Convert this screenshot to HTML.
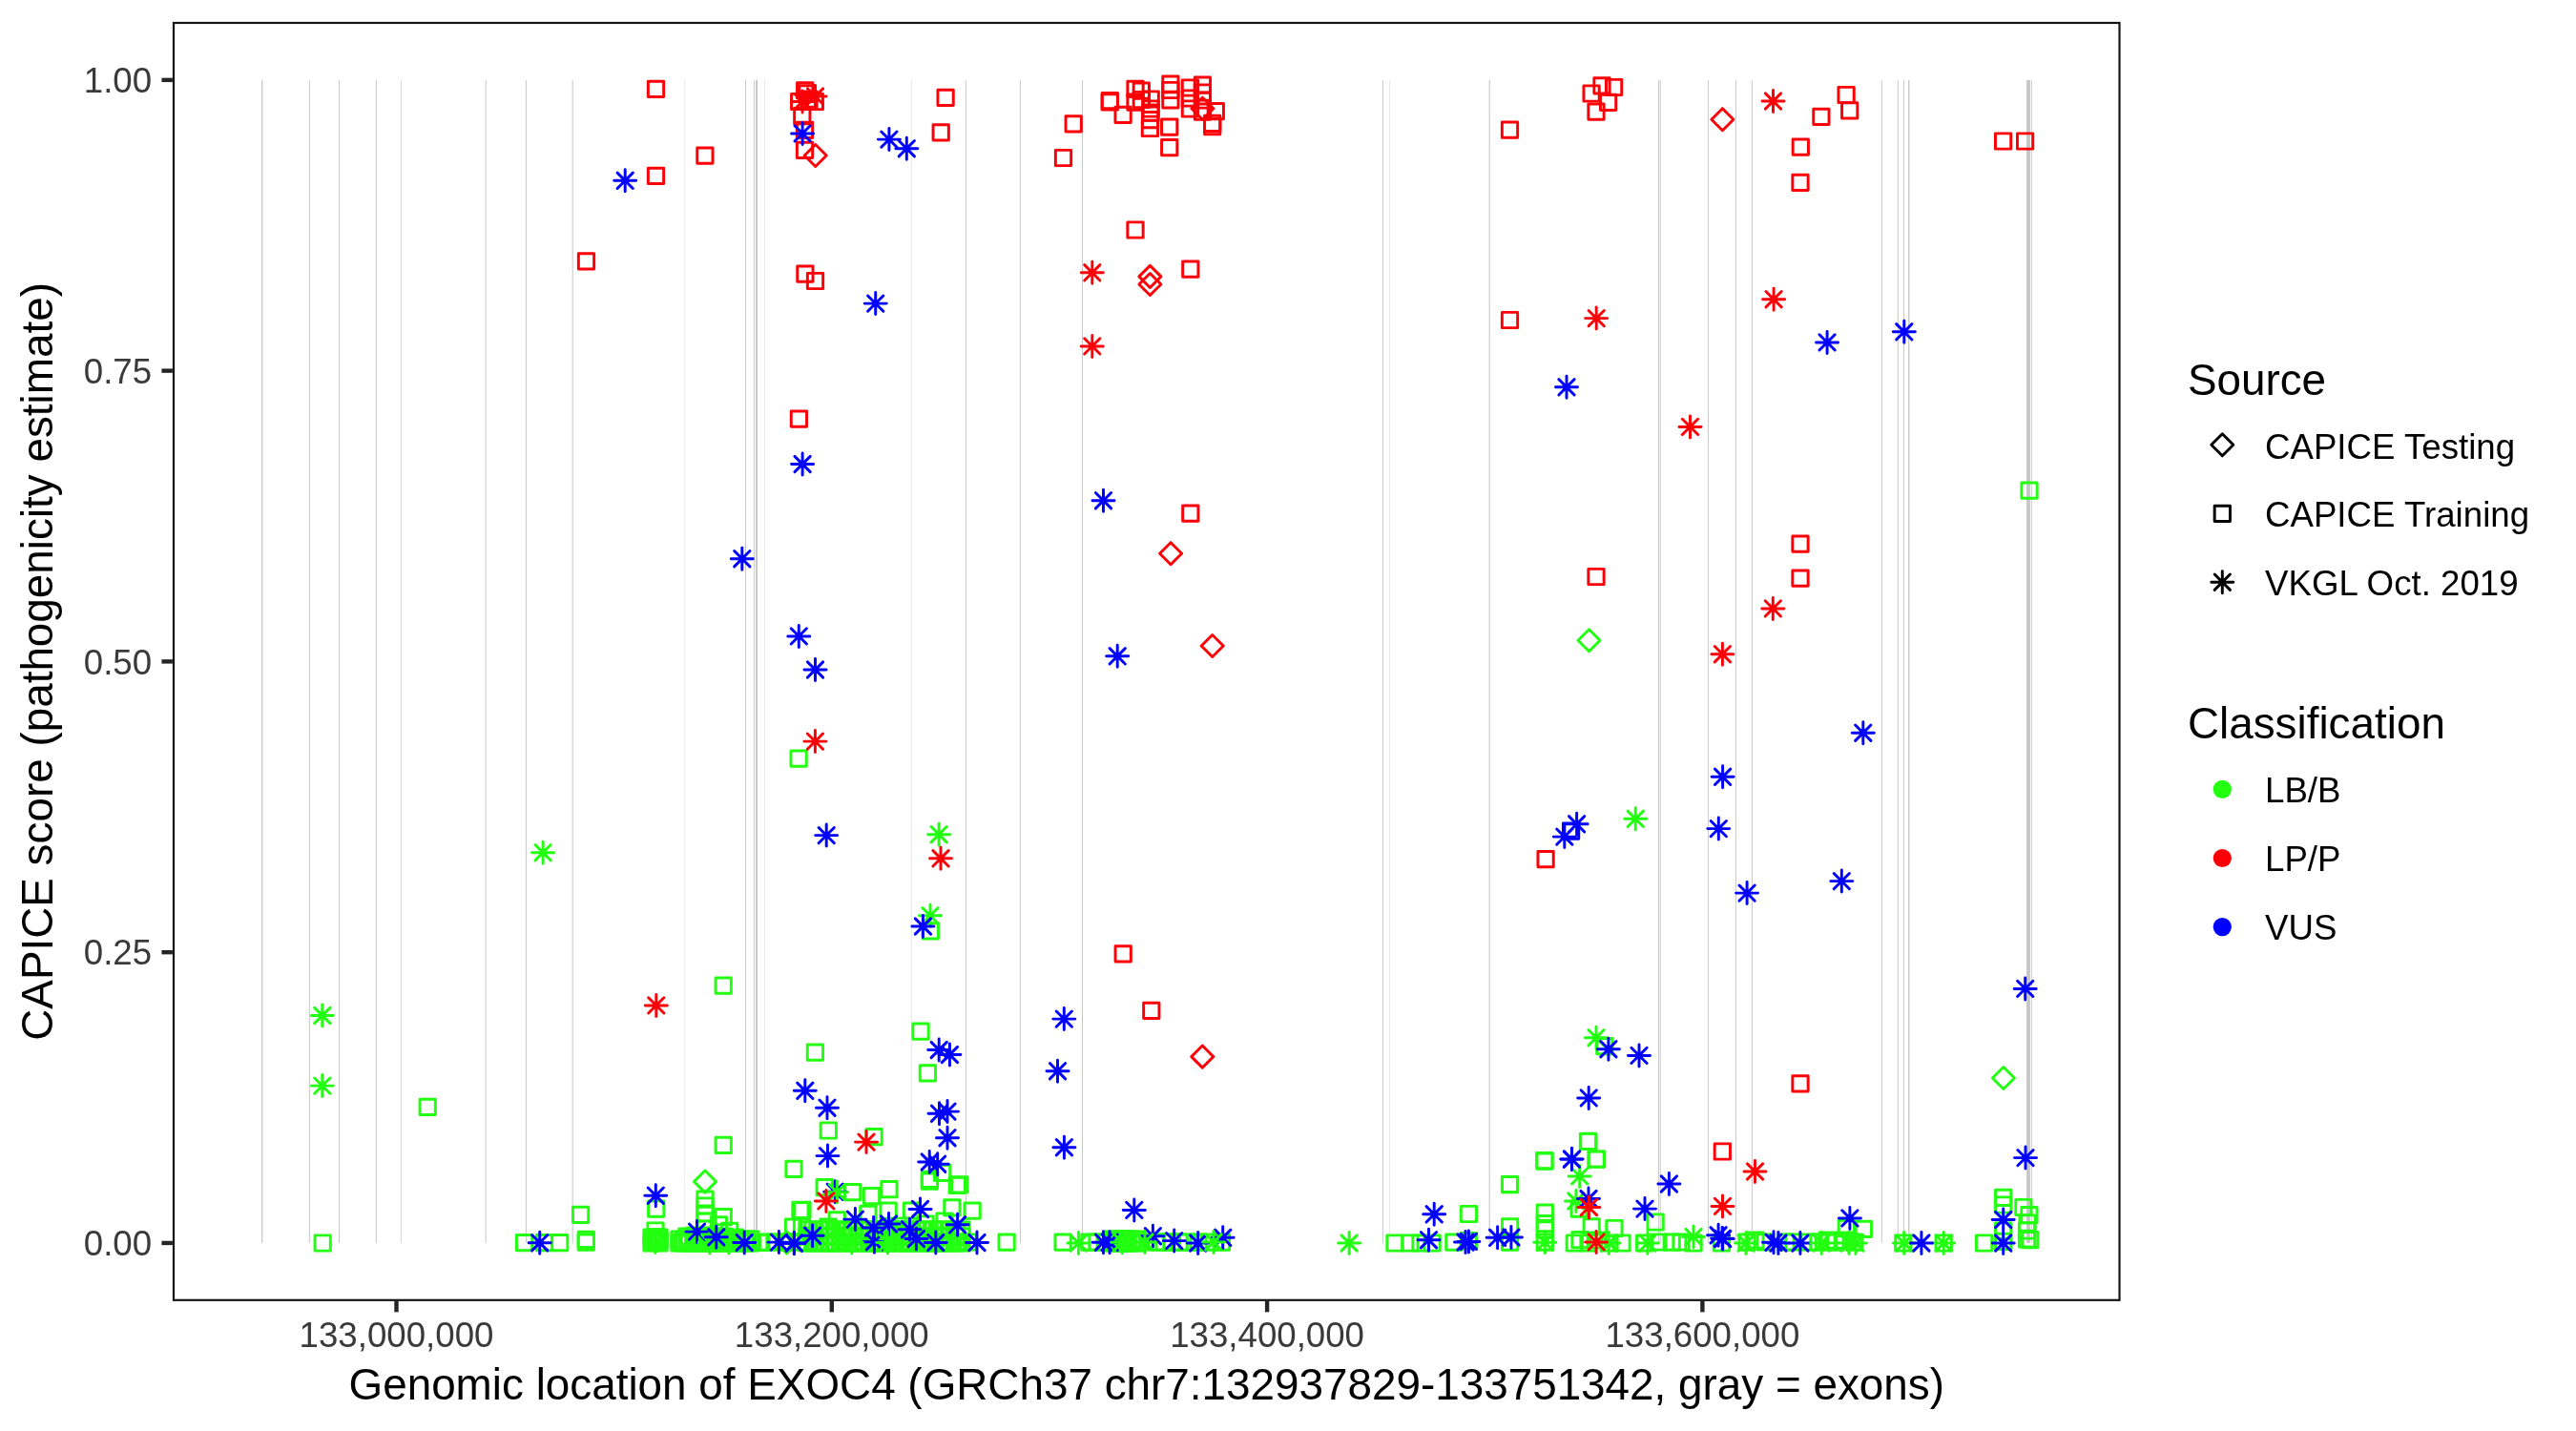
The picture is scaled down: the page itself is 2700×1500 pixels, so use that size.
<!DOCTYPE html>
<html><head><meta charset="utf-8"><title>CAPICE EXOC4</title>
<style>html,body{margin:0;padding:0;background:#fff;width:2700px;height:1500px;overflow:hidden}svg{display:block;will-change:transform;font-family:"Liberation Sans",sans-serif}</style>
</head><body><svg width="2700" height="1500" viewBox="0 0 2700 1500" font-family="Liberation Sans, sans-serif"><rect x="0" y="0" width="2700" height="1500" fill="#FFFFFF"/><g><rect x="274.10" y="83.85" width="1.20" height="1219.10" fill="#C4C4C4"/><rect x="323.90" y="83.85" width="1.00" height="1219.10" fill="#C8C8C8"/><rect x="355.00" y="83.85" width="1.00" height="1219.10" fill="#C8C8C8"/><rect x="393.90" y="83.85" width="1.00" height="1219.10" fill="#C8C8C8"/><rect x="419.90" y="83.85" width="1.00" height="1219.10" fill="#D4D4D4"/><rect x="508.70" y="83.85" width="1.00" height="1219.10" fill="#C8C8C8"/><rect x="550.90" y="83.85" width="1.00" height="1219.10" fill="#C8C8C8"/><rect x="599.70" y="83.85" width="1.00" height="1219.10" fill="#C8C8C8"/><rect x="717.00" y="83.85" width="1.00" height="1219.10" fill="#EDEDED"/><rect x="781.00" y="83.85" width="1.00" height="1219.10" fill="#C8C8C8"/><rect x="789.90" y="83.85" width="1.00" height="1219.10" fill="#CCCCCC"/><rect x="792.15" y="83.85" width="1.90" height="1219.10" fill="#C4C4C4"/><rect x="800.90" y="83.85" width="1.00" height="1219.10" fill="#E8E8E8"/><rect x="954.90" y="83.85" width="1.00" height="1219.10" fill="#E8E8E8"/><rect x="1011.90" y="83.85" width="1.00" height="1219.10" fill="#C8C8C8"/><rect x="1068.90" y="83.85" width="1.00" height="1219.10" fill="#C8C8C8"/><rect x="1134.00" y="83.85" width="1.00" height="1219.10" fill="#C8C8C8"/><rect x="1448.90" y="83.85" width="1.00" height="1219.10" fill="#C8C8C8"/><rect x="1455.90" y="83.85" width="1.00" height="1219.10" fill="#E6E6E6"/><rect x="1560.65" y="83.85" width="1.10" height="1219.10" fill="#C6C6C6"/><rect x="1737.90" y="83.85" width="1.00" height="1219.10" fill="#C8C8C8"/><rect x="1739.70" y="83.85" width="1.00" height="1219.10" fill="#C8C8C8"/><rect x="1789.90" y="83.85" width="1.00" height="1219.10" fill="#C8C8C8"/><rect x="1818.90" y="83.85" width="1.00" height="1219.10" fill="#C8C8C8"/><rect x="1835.90" y="83.85" width="1.00" height="1219.10" fill="#C8C8C8"/><rect x="1971.90" y="83.85" width="1.00" height="1219.10" fill="#C8C8C8"/><rect x="1988.80" y="83.85" width="1.00" height="1219.10" fill="#C8C8C8"/><rect x="1994.90" y="83.85" width="1.00" height="1219.10" fill="#C8C8C8"/><rect x="2000.15" y="83.85" width="1.30" height="1219.10" fill="#C4C4C4"/><rect x="2124.10" y="83.85" width="3.80" height="1219.10" fill="#C6C6C6"/><rect x="2128.90" y="83.85" width="1.00" height="1219.10" fill="#CFCFCF"/></g><g fill="none" stroke-width="2.95" stroke-linejoin="round" stroke-linecap="round"><path d="M1665.50 659.78L1677.02 671.30L1665.50 682.82L1653.98 671.30Z" stroke="#22FF10"/><rect x="2118.86" y="505.96" width="16.28" height="16.28" stroke="#22FF10"/><rect x="828.96" y="786.96" width="16.28" height="16.28" stroke="#22FF10"/><rect x="440.06" y="1152.26" width="16.28" height="16.28" stroke="#22FF10"/><rect x="750.06" y="1024.96" width="16.28" height="16.28" stroke="#22FF10"/><rect x="846.26" y="1094.96" width="16.28" height="16.28" stroke="#22FF10"/><rect x="967.16" y="967.76" width="16.28" height="16.28" stroke="#22FF10"/><rect x="956.86" y="1072.96" width="16.28" height="16.28" stroke="#22FF10"/><rect x="964.26" y="1116.76" width="16.28" height="16.28" stroke="#22FF10"/><rect x="1673.66" y="1088.46" width="16.28" height="16.28" stroke="#22FF10"/><path d="M2099.90 1118.48L2111.42 1130.00L2099.90 1141.52L2088.38 1130.00Z" stroke="#22FF10"/><rect x="860.16" y="1176.86" width="16.28" height="16.28" stroke="#22FF10"/><rect x="907.96" y="1183.46" width="16.28" height="16.28" stroke="#22FF10"/><rect x="823.86" y="1217.16" width="16.28" height="16.28" stroke="#22FF10"/><rect x="979.46" y="1221.16" width="16.28" height="16.28" stroke="#22FF10"/><rect x="966.36" y="1228.26" width="16.28" height="16.28" stroke="#22FF10"/><rect x="995.16" y="1234.26" width="16.28" height="16.28" stroke="#22FF10"/><rect x="541.46" y="1294.56" width="16.28" height="16.28" stroke="#22FF10"/><rect x="562.36" y="1294.56" width="16.28" height="16.28" stroke="#22FF10"/><rect x="578.56" y="1294.56" width="16.28" height="16.28" stroke="#22FF10"/><rect x="600.46" y="1265.16" width="16.28" height="16.28" stroke="#22FF10"/><rect x="606.16" y="1291.16" width="16.28" height="16.28" stroke="#22FF10"/><rect x="606.16" y="1293.96" width="16.28" height="16.28" stroke="#22FF10"/><rect x="679.56" y="1258.96" width="16.28" height="16.28" stroke="#22FF10"/><rect x="679.56" y="1288.66" width="16.28" height="16.28" stroke="#22FF10"/><rect x="679.56" y="1294.36" width="16.28" height="16.28" stroke="#22FF10"/><rect x="675.86" y="1291.86" width="16.28" height="16.28" stroke="#22FF10"/><rect x="682.86" y="1291.86" width="16.28" height="16.28" stroke="#22FF10"/><rect x="750.06" y="1192.16" width="16.28" height="16.28" stroke="#22FF10"/><path d="M739.00 1227.08L750.52 1238.60L739.00 1250.12L727.48 1238.60Z" stroke="#22FF10"/><rect x="730.86" y="1248.96" width="16.28" height="16.28" stroke="#22FF10"/><rect x="730.86" y="1255.86" width="16.28" height="16.28" stroke="#22FF10"/><rect x="730.86" y="1263.86" width="16.28" height="16.28" stroke="#22FF10"/><rect x="730.86" y="1271.86" width="16.28" height="16.28" stroke="#22FF10"/><rect x="730.86" y="1279.86" width="16.28" height="16.28" stroke="#22FF10"/><rect x="730.86" y="1286.86" width="16.28" height="16.28" stroke="#22FF10"/><rect x="730.86" y="1293.86" width="16.28" height="16.28" stroke="#22FF10"/><rect x="750.06" y="1267.46" width="16.28" height="16.28" stroke="#22FF10"/><rect x="745.16" y="1275.66" width="16.28" height="16.28" stroke="#22FF10"/><rect x="756.56" y="1282.16" width="16.28" height="16.28" stroke="#22FF10"/><rect x="706.86" y="1293.86" width="16.28" height="16.28" stroke="#22FF10"/><rect x="713.86" y="1293.86" width="16.28" height="16.28" stroke="#22FF10"/><rect x="720.86" y="1293.86" width="16.28" height="16.28" stroke="#22FF10"/><rect x="727.86" y="1293.86" width="16.28" height="16.28" stroke="#22FF10"/><rect x="736.86" y="1293.86" width="16.28" height="16.28" stroke="#22FF10"/><rect x="743.86" y="1293.86" width="16.28" height="16.28" stroke="#22FF10"/><rect x="751.86" y="1293.86" width="16.28" height="16.28" stroke="#22FF10"/><rect x="759.86" y="1293.86" width="16.28" height="16.28" stroke="#22FF10"/><rect x="767.86" y="1293.86" width="16.28" height="16.28" stroke="#22FF10"/><rect x="775.86" y="1293.86" width="16.28" height="16.28" stroke="#22FF10"/><rect x="711.86" y="1287.86" width="16.28" height="16.28" stroke="#22FF10"/><rect x="719.86" y="1286.86" width="16.28" height="16.28" stroke="#22FF10"/><rect x="739.86" y="1287.86" width="16.28" height="16.28" stroke="#22FF10"/><rect x="749.86" y="1287.86" width="16.28" height="16.28" stroke="#22FF10"/><rect x="761.86" y="1288.86" width="16.28" height="16.28" stroke="#22FF10"/><rect x="789.56" y="1294.36" width="16.28" height="16.28" stroke="#22FF10"/><path d="M824.60 1290.98L836.12 1302.50L824.60 1314.02L813.08 1302.50Z" stroke="#22FF10"/><rect x="796.86" y="1293.86" width="16.28" height="16.28" stroke="#22FF10"/><rect x="803.86" y="1293.86" width="16.28" height="16.28" stroke="#22FF10"/><rect x="815.86" y="1293.86" width="16.28" height="16.28" stroke="#22FF10"/><rect x="827.86" y="1293.86" width="16.28" height="16.28" stroke="#22FF10"/><rect x="830.76" y="1260.56" width="16.28" height="16.28" stroke="#22FF10"/><rect x="823.36" y="1278.06" width="16.28" height="16.28" stroke="#22FF10"/><rect x="832.36" y="1278.06" width="16.28" height="16.28" stroke="#22FF10"/><rect x="832.86" y="1260.16" width="16.28" height="16.28" stroke="#22FF10"/><rect x="856.06" y="1236.56" width="16.28" height="16.28" stroke="#22FF10"/><rect x="885.46" y="1241.46" width="16.28" height="16.28" stroke="#22FF10"/><rect x="905.36" y="1245.46" width="16.28" height="16.28" stroke="#22FF10"/><rect x="923.76" y="1238.56" width="16.28" height="16.28" stroke="#22FF10"/><rect x="922.96" y="1260.96" width="16.28" height="16.28" stroke="#22FF10"/><rect x="947.36" y="1260.96" width="16.28" height="16.28" stroke="#22FF10"/><rect x="966.16" y="1229.96" width="16.28" height="16.28" stroke="#22FF10"/><rect x="989.76" y="1257.76" width="16.28" height="16.28" stroke="#22FF10"/><rect x="1010.96" y="1260.96" width="16.28" height="16.28" stroke="#22FF10"/><rect x="869.16" y="1270.76" width="16.28" height="16.28" stroke="#22FF10"/><rect x="901.76" y="1264.26" width="16.28" height="16.28" stroke="#22FF10"/><rect x="859.86" y="1277.86" width="16.28" height="16.28" stroke="#22FF10"/><rect x="879.86" y="1281.86" width="16.28" height="16.28" stroke="#22FF10"/><rect x="936.86" y="1276.86" width="16.28" height="16.28" stroke="#22FF10"/><rect x="961.86" y="1274.86" width="16.28" height="16.28" stroke="#22FF10"/><rect x="981.86" y="1271.86" width="16.28" height="16.28" stroke="#22FF10"/><rect x="836.86" y="1293.86" width="16.28" height="16.28" stroke="#22FF10"/><rect x="846.86" y="1293.86" width="16.28" height="16.28" stroke="#22FF10"/><rect x="856.86" y="1293.86" width="16.28" height="16.28" stroke="#22FF10"/><rect x="866.86" y="1293.86" width="16.28" height="16.28" stroke="#22FF10"/><rect x="876.86" y="1293.86" width="16.28" height="16.28" stroke="#22FF10"/><rect x="886.86" y="1293.86" width="16.28" height="16.28" stroke="#22FF10"/><rect x="896.86" y="1293.86" width="16.28" height="16.28" stroke="#22FF10"/><rect x="906.86" y="1293.86" width="16.28" height="16.28" stroke="#22FF10"/><rect x="916.86" y="1293.86" width="16.28" height="16.28" stroke="#22FF10"/><rect x="926.86" y="1293.86" width="16.28" height="16.28" stroke="#22FF10"/><rect x="936.86" y="1293.86" width="16.28" height="16.28" stroke="#22FF10"/><rect x="946.86" y="1293.86" width="16.28" height="16.28" stroke="#22FF10"/><rect x="956.86" y="1293.86" width="16.28" height="16.28" stroke="#22FF10"/><rect x="966.86" y="1293.86" width="16.28" height="16.28" stroke="#22FF10"/><rect x="976.86" y="1293.86" width="16.28" height="16.28" stroke="#22FF10"/><rect x="986.86" y="1293.86" width="16.28" height="16.28" stroke="#22FF10"/><rect x="996.86" y="1293.86" width="16.28" height="16.28" stroke="#22FF10"/><rect x="1006.86" y="1293.86" width="16.28" height="16.28" stroke="#22FF10"/><rect x="841.86" y="1286.86" width="16.28" height="16.28" stroke="#22FF10"/><rect x="861.86" y="1286.86" width="16.28" height="16.28" stroke="#22FF10"/><rect x="881.86" y="1287.86" width="16.28" height="16.28" stroke="#22FF10"/><rect x="901.86" y="1286.86" width="16.28" height="16.28" stroke="#22FF10"/><rect x="921.86" y="1287.86" width="16.28" height="16.28" stroke="#22FF10"/><rect x="941.86" y="1286.86" width="16.28" height="16.28" stroke="#22FF10"/><rect x="961.86" y="1287.86" width="16.28" height="16.28" stroke="#22FF10"/><rect x="981.86" y="1286.86" width="16.28" height="16.28" stroke="#22FF10"/><rect x="997.56" y="1233.76" width="16.28" height="16.28" stroke="#22FF10"/><rect x="1046.96" y="1294.06" width="16.28" height="16.28" stroke="#22FF10"/><rect x="1105.96" y="1294.06" width="16.28" height="16.28" stroke="#22FF10"/><rect x="1133.76" y="1294.06" width="16.28" height="16.28" stroke="#22FF10"/><rect x="1141.86" y="1293.86" width="16.28" height="16.28" stroke="#22FF10"/><rect x="1151.86" y="1293.86" width="16.28" height="16.28" stroke="#22FF10"/><rect x="1161.86" y="1293.86" width="16.28" height="16.28" stroke="#22FF10"/><rect x="1171.86" y="1293.86" width="16.28" height="16.28" stroke="#22FF10"/><rect x="1185.36" y="1294.06" width="16.28" height="16.28" stroke="#22FF10"/><rect x="1203.86" y="1294.06" width="16.28" height="16.28" stroke="#22FF10"/><rect x="1219.86" y="1294.06" width="16.28" height="16.28" stroke="#22FF10"/><rect x="1236.46" y="1294.06" width="16.28" height="16.28" stroke="#22FF10"/><rect x="1247.86" y="1294.06" width="16.28" height="16.28" stroke="#22FF10"/><rect x="1259.26" y="1294.06" width="16.28" height="16.28" stroke="#22FF10"/><rect x="1272.26" y="1294.06" width="16.28" height="16.28" stroke="#22FF10"/><rect x="1211.86" y="1293.86" width="16.28" height="16.28" stroke="#22FF10"/><rect x="1227.86" y="1293.86" width="16.28" height="16.28" stroke="#22FF10"/><rect x="1453.86" y="1294.86" width="16.28" height="16.28" stroke="#22FF10"/><rect x="1469.76" y="1294.86" width="16.28" height="16.28" stroke="#22FF10"/><rect x="1492.96" y="1294.86" width="16.28" height="16.28" stroke="#22FF10"/><rect x="1480.86" y="1294.86" width="16.28" height="16.28" stroke="#22FF10"/><rect x="1515.76" y="1294.06" width="16.28" height="16.28" stroke="#22FF10"/><rect x="1531.26" y="1264.36" width="16.28" height="16.28" stroke="#22FF10"/><rect x="1531.26" y="1292.46" width="16.28" height="16.28" stroke="#22FF10"/><rect x="1574.46" y="1294.06" width="16.28" height="16.28" stroke="#22FF10"/><rect x="1574.46" y="1233.36" width="16.28" height="16.28" stroke="#22FF10"/><rect x="1574.46" y="1277.76" width="16.28" height="16.28" stroke="#22FF10"/><rect x="1574.36" y="1233.46" width="16.28" height="16.28" stroke="#22FF10"/><rect x="1610.86" y="1208.96" width="16.28" height="16.28" stroke="#22FF10"/><rect x="1611.16" y="1263.06" width="16.28" height="16.28" stroke="#22FF10"/><rect x="1611.16" y="1274.46" width="16.28" height="16.28" stroke="#22FF10"/><rect x="1611.16" y="1294.06" width="16.28" height="16.28" stroke="#22FF10"/><rect x="1611.16" y="1280.86" width="16.28" height="16.28" stroke="#22FF10"/><rect x="1656.36" y="1188.36" width="16.28" height="16.28" stroke="#22FF10"/><rect x="1664.96" y="1206.86" width="16.28" height="16.28" stroke="#22FF10"/><rect x="1647.06" y="1258.96" width="16.28" height="16.28" stroke="#22FF10"/><rect x="1660.06" y="1277.76" width="16.28" height="16.28" stroke="#22FF10"/><rect x="1683.76" y="1279.36" width="16.28" height="16.28" stroke="#22FF10"/><rect x="1642.16" y="1294.86" width="16.28" height="16.28" stroke="#22FF10"/><rect x="1647.86" y="1291.56" width="16.28" height="16.28" stroke="#22FF10"/><rect x="1678.86" y="1294.86" width="16.28" height="16.28" stroke="#22FF10"/><rect x="1691.86" y="1294.86" width="16.28" height="16.28" stroke="#22FF10"/><rect x="1656.86" y="1294.86" width="16.28" height="16.28" stroke="#22FF10"/><rect x="1666.86" y="1291.86" width="16.28" height="16.28" stroke="#22FF10"/><rect x="1726.96" y="1272.86" width="16.28" height="16.28" stroke="#22FF10"/><rect x="1715.56" y="1294.86" width="16.28" height="16.28" stroke="#22FF10"/><rect x="1744.06" y="1294.06" width="16.28" height="16.28" stroke="#22FF10"/><rect x="1766.86" y="1294.86" width="16.28" height="16.28" stroke="#22FF10"/><rect x="1729.86" y="1293.86" width="16.28" height="16.28" stroke="#22FF10"/><rect x="1753.86" y="1293.86" width="16.28" height="16.28" stroke="#22FF10"/><rect x="1796.26" y="1294.86" width="16.28" height="16.28" stroke="#22FF10"/><rect x="1610.76" y="1208.46" width="16.28" height="16.28" stroke="#22FF10"/><rect x="1656.76" y="1188.26" width="16.28" height="16.28" stroke="#22FF10"/><rect x="1665.16" y="1206.96" width="16.28" height="16.28" stroke="#22FF10"/><rect x="1822.86" y="1294.06" width="16.28" height="16.28" stroke="#22FF10"/><rect x="1831.86" y="1291.86" width="16.28" height="16.28" stroke="#22FF10"/><rect x="1841.86" y="1293.86" width="16.28" height="16.28" stroke="#22FF10"/><rect x="1863.86" y="1293.86" width="16.28" height="16.28" stroke="#22FF10"/><rect x="1871.86" y="1293.86" width="16.28" height="16.28" stroke="#22FF10"/><rect x="1886.86" y="1293.86" width="16.28" height="16.28" stroke="#22FF10"/><rect x="1945.16" y="1280.16" width="16.28" height="16.28" stroke="#22FF10"/><rect x="1927.16" y="1279.36" width="16.28" height="16.28" stroke="#22FF10"/><rect x="1897.86" y="1294.06" width="16.28" height="16.28" stroke="#22FF10"/><rect x="1906.86" y="1291.86" width="16.28" height="16.28" stroke="#22FF10"/><rect x="1915.86" y="1294.06" width="16.28" height="16.28" stroke="#22FF10"/><rect x="1924.86" y="1291.86" width="16.28" height="16.28" stroke="#22FF10"/><rect x="1935.36" y="1294.06" width="16.28" height="16.28" stroke="#22FF10"/><rect x="1986.66" y="1294.86" width="16.28" height="16.28" stroke="#22FF10"/><rect x="2029.06" y="1294.86" width="16.28" height="16.28" stroke="#22FF10"/><rect x="2071.46" y="1294.86" width="16.28" height="16.28" stroke="#22FF10"/><rect x="2091.56" y="1247.26" width="16.28" height="16.28" stroke="#22FF10"/><rect x="2091.56" y="1254.86" width="16.28" height="16.28" stroke="#22FF10"/><rect x="2091.56" y="1293.26" width="16.28" height="16.28" stroke="#22FF10"/><rect x="2091.56" y="1281.86" width="16.28" height="16.28" stroke="#22FF10"/><rect x="2112.76" y="1257.36" width="16.28" height="16.28" stroke="#22FF10"/><rect x="2118.76" y="1265.56" width="16.28" height="16.28" stroke="#22FF10"/><rect x="2116.36" y="1281.86" width="16.28" height="16.28" stroke="#22FF10"/><rect x="2116.36" y="1290.76" width="16.28" height="16.28" stroke="#22FF10"/><rect x="2119.56" y="1291.56" width="16.28" height="16.28" stroke="#22FF10"/><rect x="2116.86" y="1273.86" width="16.28" height="16.28" stroke="#22FF10"/><rect x="674.86" y="1288.86" width="16.28" height="16.28" stroke="#22FF10"/><rect x="682.86" y="1288.86" width="16.28" height="16.28" stroke="#22FF10"/><rect x="678.86" y="1290.86" width="16.28" height="16.28" stroke="#22FF10"/><rect x="674.86" y="1294.86" width="16.28" height="16.28" stroke="#22FF10"/><rect x="682.86" y="1294.86" width="16.28" height="16.28" stroke="#22FF10"/><rect x="678.86" y="1281.86" width="16.28" height="16.28" stroke="#22FF10"/><rect x="703.86" y="1290.86" width="16.28" height="16.28" stroke="#22FF10"/><rect x="703.86" y="1294.86" width="16.28" height="16.28" stroke="#22FF10"/><rect x="708.86" y="1290.86" width="16.28" height="16.28" stroke="#22FF10"/><rect x="708.86" y="1294.86" width="16.28" height="16.28" stroke="#22FF10"/><rect x="713.86" y="1290.86" width="16.28" height="16.28" stroke="#22FF10"/><rect x="713.86" y="1294.86" width="16.28" height="16.28" stroke="#22FF10"/><rect x="718.86" y="1290.86" width="16.28" height="16.28" stroke="#22FF10"/><rect x="718.86" y="1294.86" width="16.28" height="16.28" stroke="#22FF10"/><rect x="723.86" y="1290.86" width="16.28" height="16.28" stroke="#22FF10"/><rect x="723.86" y="1294.86" width="16.28" height="16.28" stroke="#22FF10"/><rect x="728.86" y="1290.86" width="16.28" height="16.28" stroke="#22FF10"/><rect x="728.86" y="1294.86" width="16.28" height="16.28" stroke="#22FF10"/><rect x="733.86" y="1290.86" width="16.28" height="16.28" stroke="#22FF10"/><rect x="733.86" y="1294.86" width="16.28" height="16.28" stroke="#22FF10"/><rect x="738.86" y="1290.86" width="16.28" height="16.28" stroke="#22FF10"/><rect x="738.86" y="1294.86" width="16.28" height="16.28" stroke="#22FF10"/><rect x="743.86" y="1290.86" width="16.28" height="16.28" stroke="#22FF10"/><rect x="743.86" y="1294.86" width="16.28" height="16.28" stroke="#22FF10"/><rect x="748.86" y="1290.86" width="16.28" height="16.28" stroke="#22FF10"/><rect x="748.86" y="1294.86" width="16.28" height="16.28" stroke="#22FF10"/><rect x="753.86" y="1290.86" width="16.28" height="16.28" stroke="#22FF10"/><rect x="753.86" y="1294.86" width="16.28" height="16.28" stroke="#22FF10"/><rect x="758.86" y="1290.86" width="16.28" height="16.28" stroke="#22FF10"/><rect x="758.86" y="1294.86" width="16.28" height="16.28" stroke="#22FF10"/><rect x="763.86" y="1290.86" width="16.28" height="16.28" stroke="#22FF10"/><rect x="763.86" y="1294.86" width="16.28" height="16.28" stroke="#22FF10"/><rect x="768.86" y="1290.86" width="16.28" height="16.28" stroke="#22FF10"/><rect x="768.86" y="1294.86" width="16.28" height="16.28" stroke="#22FF10"/><rect x="773.86" y="1290.86" width="16.28" height="16.28" stroke="#22FF10"/><rect x="773.86" y="1294.86" width="16.28" height="16.28" stroke="#22FF10"/><rect x="778.86" y="1290.86" width="16.28" height="16.28" stroke="#22FF10"/><rect x="778.86" y="1294.86" width="16.28" height="16.28" stroke="#22FF10"/><rect x="837.86" y="1280.86" width="16.28" height="16.28" stroke="#22FF10"/><rect x="837.86" y="1287.86" width="16.28" height="16.28" stroke="#22FF10"/><rect x="837.86" y="1294.86" width="16.28" height="16.28" stroke="#22FF10"/><rect x="843.86" y="1280.86" width="16.28" height="16.28" stroke="#22FF10"/><rect x="843.86" y="1287.86" width="16.28" height="16.28" stroke="#22FF10"/><rect x="843.86" y="1294.86" width="16.28" height="16.28" stroke="#22FF10"/><rect x="849.86" y="1280.86" width="16.28" height="16.28" stroke="#22FF10"/><rect x="849.86" y="1287.86" width="16.28" height="16.28" stroke="#22FF10"/><rect x="849.86" y="1294.86" width="16.28" height="16.28" stroke="#22FF10"/><rect x="855.86" y="1280.86" width="16.28" height="16.28" stroke="#22FF10"/><rect x="855.86" y="1287.86" width="16.28" height="16.28" stroke="#22FF10"/><rect x="855.86" y="1294.86" width="16.28" height="16.28" stroke="#22FF10"/><rect x="861.86" y="1280.86" width="16.28" height="16.28" stroke="#22FF10"/><rect x="861.86" y="1287.86" width="16.28" height="16.28" stroke="#22FF10"/><rect x="861.86" y="1294.86" width="16.28" height="16.28" stroke="#22FF10"/><rect x="867.86" y="1280.86" width="16.28" height="16.28" stroke="#22FF10"/><rect x="867.86" y="1287.86" width="16.28" height="16.28" stroke="#22FF10"/><rect x="867.86" y="1294.86" width="16.28" height="16.28" stroke="#22FF10"/><rect x="873.86" y="1280.86" width="16.28" height="16.28" stroke="#22FF10"/><rect x="873.86" y="1287.86" width="16.28" height="16.28" stroke="#22FF10"/><rect x="873.86" y="1294.86" width="16.28" height="16.28" stroke="#22FF10"/><rect x="879.86" y="1280.86" width="16.28" height="16.28" stroke="#22FF10"/><rect x="879.86" y="1287.86" width="16.28" height="16.28" stroke="#22FF10"/><rect x="879.86" y="1294.86" width="16.28" height="16.28" stroke="#22FF10"/><rect x="885.86" y="1280.86" width="16.28" height="16.28" stroke="#22FF10"/><rect x="885.86" y="1287.86" width="16.28" height="16.28" stroke="#22FF10"/><rect x="885.86" y="1294.86" width="16.28" height="16.28" stroke="#22FF10"/><rect x="891.86" y="1280.86" width="16.28" height="16.28" stroke="#22FF10"/><rect x="891.86" y="1287.86" width="16.28" height="16.28" stroke="#22FF10"/><rect x="891.86" y="1294.86" width="16.28" height="16.28" stroke="#22FF10"/><rect x="897.86" y="1280.86" width="16.28" height="16.28" stroke="#22FF10"/><rect x="897.86" y="1287.86" width="16.28" height="16.28" stroke="#22FF10"/><rect x="897.86" y="1294.86" width="16.28" height="16.28" stroke="#22FF10"/><rect x="903.86" y="1280.86" width="16.28" height="16.28" stroke="#22FF10"/><rect x="903.86" y="1287.86" width="16.28" height="16.28" stroke="#22FF10"/><rect x="903.86" y="1294.86" width="16.28" height="16.28" stroke="#22FF10"/><rect x="909.86" y="1280.86" width="16.28" height="16.28" stroke="#22FF10"/><rect x="909.86" y="1287.86" width="16.28" height="16.28" stroke="#22FF10"/><rect x="909.86" y="1294.86" width="16.28" height="16.28" stroke="#22FF10"/><rect x="915.86" y="1280.86" width="16.28" height="16.28" stroke="#22FF10"/><rect x="915.86" y="1287.86" width="16.28" height="16.28" stroke="#22FF10"/><rect x="915.86" y="1294.86" width="16.28" height="16.28" stroke="#22FF10"/><rect x="921.86" y="1280.86" width="16.28" height="16.28" stroke="#22FF10"/><rect x="921.86" y="1287.86" width="16.28" height="16.28" stroke="#22FF10"/><rect x="921.86" y="1294.86" width="16.28" height="16.28" stroke="#22FF10"/><rect x="927.86" y="1280.86" width="16.28" height="16.28" stroke="#22FF10"/><rect x="927.86" y="1287.86" width="16.28" height="16.28" stroke="#22FF10"/><rect x="927.86" y="1294.86" width="16.28" height="16.28" stroke="#22FF10"/><rect x="933.86" y="1280.86" width="16.28" height="16.28" stroke="#22FF10"/><rect x="933.86" y="1287.86" width="16.28" height="16.28" stroke="#22FF10"/><rect x="933.86" y="1294.86" width="16.28" height="16.28" stroke="#22FF10"/><rect x="939.86" y="1280.86" width="16.28" height="16.28" stroke="#22FF10"/><rect x="939.86" y="1287.86" width="16.28" height="16.28" stroke="#22FF10"/><rect x="939.86" y="1294.86" width="16.28" height="16.28" stroke="#22FF10"/><rect x="945.86" y="1280.86" width="16.28" height="16.28" stroke="#22FF10"/><rect x="945.86" y="1287.86" width="16.28" height="16.28" stroke="#22FF10"/><rect x="945.86" y="1294.86" width="16.28" height="16.28" stroke="#22FF10"/><rect x="951.86" y="1280.86" width="16.28" height="16.28" stroke="#22FF10"/><rect x="951.86" y="1287.86" width="16.28" height="16.28" stroke="#22FF10"/><rect x="951.86" y="1294.86" width="16.28" height="16.28" stroke="#22FF10"/><rect x="957.86" y="1280.86" width="16.28" height="16.28" stroke="#22FF10"/><rect x="957.86" y="1287.86" width="16.28" height="16.28" stroke="#22FF10"/><rect x="957.86" y="1294.86" width="16.28" height="16.28" stroke="#22FF10"/><rect x="963.86" y="1280.86" width="16.28" height="16.28" stroke="#22FF10"/><rect x="963.86" y="1287.86" width="16.28" height="16.28" stroke="#22FF10"/><rect x="963.86" y="1294.86" width="16.28" height="16.28" stroke="#22FF10"/><rect x="969.86" y="1280.86" width="16.28" height="16.28" stroke="#22FF10"/><rect x="969.86" y="1287.86" width="16.28" height="16.28" stroke="#22FF10"/><rect x="969.86" y="1294.86" width="16.28" height="16.28" stroke="#22FF10"/><rect x="975.86" y="1280.86" width="16.28" height="16.28" stroke="#22FF10"/><rect x="975.86" y="1287.86" width="16.28" height="16.28" stroke="#22FF10"/><rect x="975.86" y="1294.86" width="16.28" height="16.28" stroke="#22FF10"/><rect x="981.86" y="1280.86" width="16.28" height="16.28" stroke="#22FF10"/><rect x="981.86" y="1287.86" width="16.28" height="16.28" stroke="#22FF10"/><rect x="981.86" y="1294.86" width="16.28" height="16.28" stroke="#22FF10"/><rect x="987.86" y="1280.86" width="16.28" height="16.28" stroke="#22FF10"/><rect x="987.86" y="1287.86" width="16.28" height="16.28" stroke="#22FF10"/><rect x="987.86" y="1294.86" width="16.28" height="16.28" stroke="#22FF10"/><rect x="993.86" y="1280.86" width="16.28" height="16.28" stroke="#22FF10"/><rect x="993.86" y="1287.86" width="16.28" height="16.28" stroke="#22FF10"/><rect x="993.86" y="1294.86" width="16.28" height="16.28" stroke="#22FF10"/><rect x="999.86" y="1280.86" width="16.28" height="16.28" stroke="#22FF10"/><rect x="999.86" y="1287.86" width="16.28" height="16.28" stroke="#22FF10"/><rect x="999.86" y="1294.86" width="16.28" height="16.28" stroke="#22FF10"/><rect x="330.06" y="1294.86" width="16.28" height="16.28" stroke="#22FF10"/><rect x="1157.86" y="1290.86" width="16.28" height="16.28" stroke="#22FF10"/><rect x="1157.86" y="1294.86" width="16.28" height="16.28" stroke="#22FF10"/><rect x="1161.86" y="1290.86" width="16.28" height="16.28" stroke="#22FF10"/><rect x="1161.86" y="1294.86" width="16.28" height="16.28" stroke="#22FF10"/><rect x="1165.86" y="1290.86" width="16.28" height="16.28" stroke="#22FF10"/><rect x="1165.86" y="1294.86" width="16.28" height="16.28" stroke="#22FF10"/><rect x="1169.86" y="1290.86" width="16.28" height="16.28" stroke="#22FF10"/><rect x="1169.86" y="1294.86" width="16.28" height="16.28" stroke="#22FF10"/><rect x="1173.86" y="1290.86" width="16.28" height="16.28" stroke="#22FF10"/><rect x="1173.86" y="1294.86" width="16.28" height="16.28" stroke="#22FF10"/><rect x="1177.86" y="1290.86" width="16.28" height="16.28" stroke="#22FF10"/><rect x="1177.86" y="1294.86" width="16.28" height="16.28" stroke="#22FF10"/><rect x="1181.86" y="1290.86" width="16.28" height="16.28" stroke="#22FF10"/><rect x="1181.86" y="1294.86" width="16.28" height="16.28" stroke="#22FF10"/><rect x="679.36" y="85.26" width="16.28" height="16.28" stroke="#FC0008"/><rect x="679.36" y="176.26" width="16.28" height="16.28" stroke="#FC0008"/><path d="M647.06 181.16L663.34 197.44M647.06 197.44L663.34 181.16M643.69 189.30L666.71 189.30M655.20 177.79L655.20 200.81" stroke="#0000FF" stroke-linecap="round"/><rect x="730.76" y="155.06" width="16.28" height="16.28" stroke="#FC0008"/><rect x="606.36" y="265.76" width="16.28" height="16.28" stroke="#FC0008"/><rect x="835.56" y="86.66" width="16.28" height="16.28" stroke="#FC0008"/><rect x="829.56" y="98.36" width="16.28" height="16.28" stroke="#FC0008"/><rect x="846.16" y="98.36" width="16.28" height="16.28" stroke="#FC0008"/><rect x="837.76" y="89.66" width="16.28" height="16.28" stroke="#FC0008"/><rect x="839.86" y="95.86" width="16.28" height="16.28" stroke="#FC0008"/><rect x="832.66" y="113.46" width="16.28" height="16.28" stroke="#FC0008"/><rect x="835.36" y="128.16" width="16.28" height="16.28" stroke="#FC0008"/><rect x="835.36" y="149.16" width="16.28" height="16.28" stroke="#FC0008"/><path d="M846.36 92.86L862.64 109.14M846.36 109.14L862.64 92.86M842.99 101.00L866.01 101.00M854.50 89.49L854.50 112.51" stroke="#FC0008" stroke-linecap="round"/><path d="M832.86 98.36L849.14 114.64M832.86 114.64L849.14 98.36M829.49 106.50L852.51 106.50M841.00 94.99L841.00 118.01" stroke="#FC0008" stroke-linecap="round"/><path d="M832.96 131.76L849.24 148.04M832.96 148.04L849.24 131.76M829.59 139.90L852.61 139.90M841.10 128.39L841.10 151.41" stroke="#0000FF" stroke-linecap="round"/><path d="M854.70 151.48L866.22 163.00L854.70 174.52L843.18 163.00Z" stroke="#FC0008"/><path d="M923.76 137.96L940.04 154.24M923.76 154.24L940.04 137.96M920.39 146.10L943.41 146.10M931.90 134.59L931.90 157.61" stroke="#0000FF" stroke-linecap="round"/><path d="M942.16 147.56L958.44 163.84M942.16 163.84L958.44 147.56M938.79 155.70L961.81 155.70M950.30 144.19L950.30 167.21" stroke="#0000FF" stroke-linecap="round"/><rect x="978.06" y="130.66" width="16.28" height="16.28" stroke="#FC0008"/><rect x="982.96" y="94.26" width="16.28" height="16.28" stroke="#FC0008"/><rect x="1117.06" y="121.66" width="16.28" height="16.28" stroke="#FC0008"/><rect x="1106.36" y="157.36" width="16.28" height="16.28" stroke="#FC0008"/><rect x="1181.86" y="232.86" width="16.28" height="16.28" stroke="#FC0008"/><rect x="1217.56" y="125.06" width="16.28" height="16.28" stroke="#FC0008"/><rect x="1217.56" y="146.46" width="16.28" height="16.28" stroke="#FC0008"/><rect x="1155.16" y="97.46" width="16.28" height="16.28" stroke="#FC0008"/><rect x="1155.16" y="98.86" width="16.28" height="16.28" stroke="#FC0008"/><rect x="1168.96" y="112.16" width="16.28" height="16.28" stroke="#FC0008"/><rect x="1181.86" y="85.16" width="16.28" height="16.28" stroke="#FC0008"/><rect x="1181.86" y="98.96" width="16.28" height="16.28" stroke="#FC0008"/><rect x="1188.16" y="87.06" width="16.28" height="16.28" stroke="#FC0008"/><rect x="1188.16" y="96.36" width="16.28" height="16.28" stroke="#FC0008"/><rect x="1198.06" y="95.86" width="16.28" height="16.28" stroke="#FC0008"/><rect x="1197.86" y="105.86" width="16.28" height="16.28" stroke="#FC0008"/><rect x="1197.86" y="109.86" width="16.28" height="16.28" stroke="#FC0008"/><rect x="1197.46" y="117.56" width="16.28" height="16.28" stroke="#FC0008"/><rect x="1197.26" y="126.36" width="16.28" height="16.28" stroke="#FC0008"/><rect x="1218.76" y="80.06" width="16.28" height="16.28" stroke="#FC0008"/><rect x="1218.76" y="86.36" width="16.28" height="16.28" stroke="#FC0008"/><rect x="1218.76" y="96.76" width="16.28" height="16.28" stroke="#FC0008"/><rect x="1239.26" y="83.86" width="16.28" height="16.28" stroke="#FC0008"/><rect x="1239.26" y="94.86" width="16.28" height="16.28" stroke="#FC0008"/><rect x="1239.26" y="105.86" width="16.28" height="16.28" stroke="#FC0008"/><rect x="1252.26" y="81.06" width="16.28" height="16.28" stroke="#FC0008"/><rect x="1252.26" y="88.86" width="16.28" height="16.28" stroke="#FC0008"/><rect x="1252.26" y="96.86" width="16.28" height="16.28" stroke="#FC0008"/><rect x="1252.26" y="109.06" width="16.28" height="16.28" stroke="#FC0008"/><path d="M1260.40 102.18L1271.92 113.70L1260.40 125.22L1248.88 113.70Z" stroke="#FC0008"/><rect x="1266.16" y="108.56" width="16.28" height="16.28" stroke="#FC0008"/><rect x="1262.56" y="121.26" width="16.28" height="16.28" stroke="#FC0008"/><rect x="1262.56" y="124.46" width="16.28" height="16.28" stroke="#FC0008"/><rect x="1574.36" y="127.96" width="16.28" height="16.28" stroke="#FC0008"/><rect x="1659.96" y="89.86" width="16.28" height="16.28" stroke="#FC0008"/><rect x="1670.86" y="81.66" width="16.28" height="16.28" stroke="#FC0008"/><rect x="1683.46" y="83.36" width="16.28" height="16.28" stroke="#FC0008"/><rect x="1677.46" y="99.16" width="16.28" height="16.28" stroke="#FC0008"/><rect x="1664.86" y="108.96" width="16.28" height="16.28" stroke="#FC0008"/><path d="M1805.40 113.68L1816.92 125.20L1805.40 136.72L1793.88 125.20Z" stroke="#FC0008"/><path d="M1850.36 97.86L1866.64 114.14M1850.36 114.14L1866.64 97.86M1846.99 106.00L1870.01 106.00M1858.50 94.49L1858.50 117.51" stroke="#FC0008" stroke-linecap="round"/><rect x="1926.96" y="91.36" width="16.28" height="16.28" stroke="#FC0008"/><rect x="1930.56" y="107.66" width="16.28" height="16.28" stroke="#FC0008"/><rect x="1900.76" y="114.16" width="16.28" height="16.28" stroke="#FC0008"/><rect x="1879.16" y="146.06" width="16.28" height="16.28" stroke="#FC0008"/><rect x="1878.86" y="183.16" width="16.28" height="16.28" stroke="#FC0008"/><rect x="2091.46" y="139.86" width="16.28" height="16.28" stroke="#FC0008"/><rect x="2114.46" y="139.86" width="16.28" height="16.28" stroke="#FC0008"/><rect x="835.76" y="278.96" width="16.28" height="16.28" stroke="#FC0008"/><rect x="846.36" y="286.36" width="16.28" height="16.28" stroke="#FC0008"/><path d="M909.56 309.96L925.84 326.24M909.56 326.24L925.84 309.96M906.19 318.10L929.21 318.10M917.70 306.59L917.70 329.61" stroke="#0000FF" stroke-linecap="round"/><rect x="829.26" y="430.96" width="16.28" height="16.28" stroke="#FC0008"/><path d="M832.96 478.36L849.24 494.64M832.96 494.64L849.24 478.36M829.59 486.50L852.61 486.50M841.10 474.99L841.10 498.01" stroke="#0000FF" stroke-linecap="round"/><path d="M1136.66 277.66L1152.94 293.94M1136.66 293.94L1152.94 277.66M1133.29 285.80L1156.31 285.80M1144.80 274.29L1144.80 297.31" stroke="#FC0008" stroke-linecap="round"/><path d="M1205.40 278.38L1216.92 289.90L1205.40 301.42L1193.88 289.90Z" stroke="#FC0008"/><path d="M1205.40 286.48L1216.92 298.00L1205.40 309.52L1193.88 298.00Z" stroke="#FC0008"/><rect x="1239.66" y="274.06" width="16.28" height="16.28" stroke="#FC0008"/><path d="M1136.66 354.76L1152.94 371.04M1136.66 371.04L1152.94 354.76M1133.29 362.90L1156.31 362.90M1144.80 351.39L1144.80 374.41" stroke="#FC0008" stroke-linecap="round"/><rect x="1574.36" y="327.36" width="16.28" height="16.28" stroke="#FC0008"/><path d="M1665.06 325.46L1681.34 341.74M1665.06 341.74L1681.34 325.46M1661.69 333.60L1684.71 333.60M1673.20 322.09L1673.20 345.11" stroke="#FC0008" stroke-linecap="round"/><path d="M1633.86 397.66L1650.14 413.94M1633.86 413.94L1650.14 397.66M1630.49 405.80L1653.51 405.80M1642.00 394.29L1642.00 417.31" stroke="#0000FF" stroke-linecap="round"/><path d="M1763.36 439.26L1779.64 455.54M1763.36 455.54L1779.64 439.26M1759.99 447.40L1783.01 447.40M1771.50 435.89L1771.50 458.91" stroke="#FC0008" stroke-linecap="round"/><path d="M1850.96 305.56L1867.24 321.84M1850.96 321.84L1867.24 305.56M1847.59 313.70L1870.61 313.70M1859.10 302.19L1859.10 325.21" stroke="#FC0008" stroke-linecap="round"/><path d="M1906.96 350.76L1923.24 367.04M1906.96 367.04L1923.24 350.76M1903.59 358.90L1926.61 358.90M1915.10 347.39L1915.10 370.41" stroke="#0000FF" stroke-linecap="round"/><path d="M1987.66 339.66L2003.94 355.94M1987.66 355.94L2003.94 339.66M1984.29 347.80L2007.31 347.80M1995.80 336.29L1995.80 359.31" stroke="#0000FF" stroke-linecap="round"/><path d="M769.66 577.56L785.94 593.84M769.66 593.84L785.94 577.56M766.29 585.70L789.31 585.70M777.80 574.19L777.80 597.21" stroke="#0000FF" stroke-linecap="round"/><path d="M829.16 658.76L845.44 675.04M829.16 675.04L845.44 658.76M825.79 666.90L848.81 666.90M837.30 655.39L837.30 678.41" stroke="#0000FF" stroke-linecap="round"/><path d="M846.36 693.86L862.64 710.14M846.36 710.14L862.64 693.86M842.99 702.00L866.01 702.00M854.50 690.49L854.50 713.51" stroke="#0000FF" stroke-linecap="round"/><path d="M1148.36 516.56L1164.64 532.84M1148.36 532.84L1164.64 516.56M1144.99 524.70L1168.01 524.70M1156.50 513.19L1156.50 536.21" stroke="#0000FF" stroke-linecap="round"/><rect x="1239.66" y="529.96" width="16.28" height="16.28" stroke="#FC0008"/><path d="M1227.10 568.68L1238.62 580.20L1227.10 591.72L1215.58 580.20Z" stroke="#FC0008"/><path d="M1163.06 679.66L1179.34 695.94M1163.06 695.94L1179.34 679.66M1159.69 687.80L1182.71 687.80M1171.20 676.29L1171.20 699.31" stroke="#0000FF" stroke-linecap="round"/><path d="M1270.70 665.48L1282.22 677.00L1270.70 688.52L1259.18 677.00Z" stroke="#FC0008"/><rect x="1664.86" y="596.36" width="16.28" height="16.28" stroke="#FC0008"/><path d="M1797.26 677.56L1813.54 693.84M1797.26 693.84L1813.54 677.56M1793.89 685.70L1816.91 685.70M1805.40 674.19L1805.40 697.21" stroke="#FC0008" stroke-linecap="round"/><rect x="1878.86" y="562.06" width="16.28" height="16.28" stroke="#FC0008"/><rect x="1878.86" y="597.96" width="16.28" height="16.28" stroke="#FC0008"/><path d="M1850.16 629.76L1866.44 646.04M1850.16 646.04L1866.44 629.76M1846.79 637.90L1869.81 637.90M1858.30 626.39L1858.30 649.41" stroke="#FC0008" stroke-linecap="round"/><path d="M560.96 885.56L577.24 901.84M560.96 901.84L577.24 885.56M557.59 893.70L580.61 893.70M569.10 882.19L569.10 905.21" stroke="#22FF10" stroke-linecap="round"/><path d="M846.26 768.96L862.54 785.24M846.26 785.24L862.54 768.96M842.89 777.10L865.91 777.10M854.40 765.59L854.40 788.61" stroke="#FC0008" stroke-linecap="round"/><path d="M858.06 867.46L874.34 883.74M858.06 883.74L874.34 867.46M854.69 875.60L877.71 875.60M866.20 864.09L866.20 887.11" stroke="#0000FF" stroke-linecap="round"/><path d="M975.96 866.56L992.24 882.84M975.96 882.84L992.24 866.56M972.59 874.70L995.61 874.70M984.10 863.19L984.10 886.21" stroke="#22FF10" stroke-linecap="round"/><path d="M977.86 891.66L994.14 907.94M977.86 907.94L994.14 891.66M974.49 899.80L997.51 899.80M986.00 888.29L986.00 911.31" stroke="#FC0008" stroke-linecap="round"/><rect x="1169.06" y="991.66" width="16.28" height="16.28" stroke="#FC0008"/><path d="M1944.66 760.06L1960.94 776.34M1944.66 776.34L1960.94 760.06M1941.29 768.20L1964.31 768.20M1952.80 756.69L1952.80 779.71" stroke="#0000FF" stroke-linecap="round"/><path d="M1797.46 806.16L1813.74 822.44M1797.46 822.44L1813.74 806.16M1794.09 814.30L1817.11 814.30M1805.60 802.79L1805.60 825.81" stroke="#0000FF" stroke-linecap="round"/><path d="M1793.16 860.46L1809.44 876.74M1793.16 876.74L1809.44 860.46M1789.79 868.60L1812.81 868.60M1801.30 857.09L1801.30 880.11" stroke="#0000FF" stroke-linecap="round"/><path d="M1706.06 850.16L1722.34 866.44M1706.06 866.44L1722.34 850.16M1702.69 858.30L1725.71 858.30M1714.20 846.79L1714.20 869.81" stroke="#22FF10" stroke-linecap="round"/><path d="M1644.46 855.66L1660.74 871.94M1644.46 871.94L1660.74 855.66M1641.09 863.80L1664.11 863.80M1652.60 852.29L1652.60 875.31" stroke="#0000FF" stroke-linecap="round"/><rect x="1638.46" y="863.06" width="16.28" height="16.28" stroke="#0000FF"/><path d="M1631.66 868.96L1647.94 885.24M1631.66 885.24L1647.94 868.96M1628.29 877.10L1651.31 877.10M1639.80 865.59L1639.80 888.61" stroke="#0000FF" stroke-linecap="round"/><rect x="1611.96" y="892.56" width="16.28" height="16.28" stroke="#FC0008"/><path d="M1822.96 927.96L1839.24 944.24M1822.96 944.24L1839.24 927.96M1819.59 936.10L1842.61 936.10M1831.10 924.59L1831.10 947.61" stroke="#0000FF" stroke-linecap="round"/><path d="M1922.16 915.46L1938.44 931.74M1922.16 931.74L1938.44 915.46M1918.79 923.60L1941.81 923.60M1930.30 912.09L1930.30 935.11" stroke="#0000FF" stroke-linecap="round"/><path d="M2114.56 1028.26L2130.84 1044.54M2114.56 1044.54L2130.84 1028.26M2111.19 1036.40L2134.21 1036.40M2122.70 1024.89L2122.70 1047.91" stroke="#0000FF" stroke-linecap="round"/><path d="M329.66 1056.36L345.94 1072.64M329.66 1072.64L345.94 1056.36M326.29 1064.50L349.31 1064.50M337.80 1052.99L337.80 1076.01" stroke="#22FF10" stroke-linecap="round"/><path d="M329.66 1129.96L345.94 1146.24M329.66 1146.24L345.94 1129.96M326.29 1138.10L349.31 1138.10M337.80 1126.59L337.80 1149.61" stroke="#22FF10" stroke-linecap="round"/><path d="M679.66 1045.76L695.94 1062.04M679.66 1062.04L695.94 1045.76M676.29 1053.90L699.31 1053.90M687.80 1042.39L687.80 1065.41" stroke="#FC0008" stroke-linecap="round"/><path d="M966.86 951.66L983.14 967.94M966.86 967.94L983.14 951.66M963.49 959.80L986.51 959.80M975.00 948.29L975.00 971.31" stroke="#22FF10" stroke-linecap="round"/><path d="M959.26 962.86L975.54 979.14M959.26 979.14L975.54 962.86M955.89 971.00L978.91 971.00M967.40 959.49L967.40 982.51" stroke="#0000FF" stroke-linecap="round"/><path d="M976.06 1092.36L992.34 1108.64M976.06 1108.64L992.34 1092.36M972.69 1100.50L995.71 1100.50M984.20 1088.99L984.20 1112.01" stroke="#0000FF" stroke-linecap="round"/><path d="M987.26 1097.36L1003.54 1113.64M987.26 1113.64L1003.54 1097.36M983.89 1105.50L1006.91 1105.50M995.40 1093.99L995.40 1117.01" stroke="#0000FF" stroke-linecap="round"/><path d="M1107.16 1059.96L1123.44 1076.24M1107.16 1076.24L1123.44 1059.96M1103.79 1068.10L1126.81 1068.10M1115.30 1056.59L1115.30 1079.61" stroke="#0000FF" stroke-linecap="round"/><path d="M1100.36 1114.56L1116.64 1130.84M1100.36 1130.84L1116.64 1114.56M1096.99 1122.70L1120.01 1122.70M1108.50 1111.19L1108.50 1134.21" stroke="#0000FF" stroke-linecap="round"/><rect x="1198.66" y="1051.16" width="16.28" height="16.28" stroke="#FC0008"/><path d="M1260.30 1096.08L1271.82 1107.60L1260.30 1119.12L1248.78 1107.60Z" stroke="#FC0008"/><path d="M1664.86 1079.56L1681.14 1095.84M1664.86 1095.84L1681.14 1079.56M1661.49 1087.70L1684.51 1087.70M1673.00 1076.19L1673.00 1099.21" stroke="#22FF10" stroke-linecap="round"/><path d="M1677.76 1091.56L1694.04 1107.84M1677.76 1107.84L1694.04 1091.56M1674.39 1099.70L1697.41 1099.70M1685.90 1088.19L1685.90 1111.21" stroke="#0000FF" stroke-linecap="round"/><path d="M1709.86 1098.26L1726.14 1114.54M1709.86 1114.54L1726.14 1098.26M1706.49 1106.40L1729.51 1106.40M1718.00 1094.89L1718.00 1117.91" stroke="#0000FF" stroke-linecap="round"/><path d="M1657.06 1142.76L1673.34 1159.04M1657.06 1159.04L1673.34 1142.76M1653.69 1150.90L1676.71 1150.90M1665.20 1139.39L1665.20 1162.41" stroke="#0000FF" stroke-linecap="round"/><rect x="1878.86" y="1127.76" width="16.28" height="16.28" stroke="#FC0008"/><rect x="1797.16" y="1198.86" width="16.28" height="16.28" stroke="#FC0008"/><path d="M2114.86 1205.46L2131.14 1221.74M2114.86 1221.74L2131.14 1205.46M2111.49 1213.60L2134.51 1213.60M2123.00 1202.09L2123.00 1225.11" stroke="#0000FF" stroke-linecap="round"/><path d="M835.66 1135.16L851.94 1151.44M835.66 1151.44L851.94 1135.16M832.29 1143.30L855.31 1143.30M843.80 1131.79L843.80 1154.81" stroke="#0000FF" stroke-linecap="round"/><path d="M858.86 1153.06L875.14 1169.34M858.86 1169.34L875.14 1153.06M855.49 1161.20L878.51 1161.20M867.00 1149.69L867.00 1172.71" stroke="#0000FF" stroke-linecap="round"/><path d="M859.36 1203.46L875.64 1219.74M859.36 1219.74L875.64 1203.46M855.99 1211.60L879.01 1211.60M867.50 1200.09L867.50 1223.11" stroke="#0000FF" stroke-linecap="round"/><path d="M899.86 1188.96L916.14 1205.24M899.86 1205.24L916.14 1188.96M896.49 1197.10L919.51 1197.10M908.00 1185.59L908.00 1208.61" stroke="#FC0008" stroke-linecap="round"/><path d="M976.36 1159.06L992.64 1175.34M976.36 1175.34L992.64 1159.06M972.99 1167.20L996.01 1167.20M984.50 1155.69L984.50 1178.71" stroke="#0000FF" stroke-linecap="round"/><path d="M984.86 1156.96L1001.14 1173.24M984.86 1173.24L1001.14 1156.96M981.49 1165.10L1004.51 1165.10M993.00 1153.59L993.00 1176.61" stroke="#0000FF" stroke-linecap="round"/><path d="M984.86 1184.56L1001.14 1200.84M984.86 1200.84L1001.14 1184.56M981.49 1192.70L1004.51 1192.70M993.00 1181.19L993.00 1204.21" stroke="#0000FF" stroke-linecap="round"/><path d="M966.06 1209.86L982.34 1226.14M966.06 1226.14L982.34 1209.86M962.69 1218.00L985.71 1218.00M974.20 1206.49L974.20 1229.51" stroke="#0000FF" stroke-linecap="round"/><path d="M974.56 1212.06L990.84 1228.34M974.56 1228.34L990.84 1212.06M971.19 1220.20L994.21 1220.20M982.70 1208.69L982.70 1231.71" stroke="#0000FF" stroke-linecap="round"/><path d="M557.56 1294.56L573.84 1310.84M557.56 1310.84L573.84 1294.56M554.19 1302.70L577.21 1302.70M565.70 1291.19L565.70 1314.21" stroke="#0000FF" stroke-linecap="round"/><path d="M679.16 1245.06L695.44 1261.34M679.16 1261.34L695.44 1245.06M675.79 1253.20L698.81 1253.20M687.30 1241.69L687.30 1264.71" stroke="#0000FF" stroke-linecap="round"/><path d="M678.76 1293.96L695.04 1310.24M678.76 1310.24L695.04 1293.96M675.39 1302.10L698.41 1302.10M686.90 1290.59L686.90 1313.61" stroke="#22FF10" stroke-linecap="round"/><path d="M722.36 1282.96L738.64 1299.24M722.36 1299.24L738.64 1282.96M718.99 1291.10L742.01 1291.10M730.50 1279.59L730.50 1302.61" stroke="#0000FF" stroke-linecap="round"/><path d="M735.76 1294.36L752.04 1310.64M735.76 1310.64L752.04 1294.36M732.39 1302.50L755.41 1302.50M743.90 1290.99L743.90 1314.01" stroke="#22FF10" stroke-linecap="round"/><path d="M755.76 1294.36L772.04 1310.64M755.76 1310.64L772.04 1294.36M752.39 1302.50L775.41 1302.50M763.90 1290.99L763.90 1314.01" stroke="#22FF10" stroke-linecap="round"/><path d="M742.66 1288.66L758.94 1304.94M742.66 1304.94L758.94 1288.66M739.29 1296.80L762.31 1296.80M750.80 1285.29L750.80 1308.31" stroke="#0000FF" stroke-linecap="round"/><path d="M772.06 1294.36L788.34 1310.64M772.06 1310.64L788.34 1294.36M768.69 1302.50L791.71 1302.50M780.20 1290.99L780.20 1314.01" stroke="#0000FF" stroke-linecap="round"/><path d="M808.26 1293.96L824.54 1310.24M808.26 1310.24L824.54 1293.96M804.89 1302.10L827.91 1302.10M816.40 1290.59L816.40 1313.61" stroke="#0000FF" stroke-linecap="round"/><path d="M824.16 1294.76L840.44 1311.04M824.16 1311.04L840.44 1294.76M820.79 1302.90L843.81 1302.90M832.30 1291.39L832.30 1314.41" stroke="#0000FF" stroke-linecap="round"/><path d="M867.06 1241.06L883.34 1257.34M867.06 1257.34L883.34 1241.06M863.69 1249.20L886.71 1249.20M875.20 1237.69L875.20 1260.71" stroke="#0000FF" stroke-linecap="round"/><path d="M869.16 1241.46L885.44 1257.74M869.16 1257.74L885.44 1241.46M865.79 1249.60L888.81 1249.60M877.30 1238.09L877.30 1261.11" stroke="#22FF10" stroke-linecap="round"/><path d="M956.36 1259.36L972.64 1275.64M956.36 1275.64L972.64 1259.36M952.99 1267.50L976.01 1267.50M964.50 1255.99L964.50 1279.01" stroke="#0000FF" stroke-linecap="round"/><path d="M888.26 1269.96L904.54 1286.24M888.26 1286.24L904.54 1269.96M884.89 1278.10L907.91 1278.10M896.40 1266.59L896.40 1289.61" stroke="#0000FF" stroke-linecap="round"/><path d="M923.36 1274.86L939.64 1291.14M923.36 1291.14L939.64 1274.86M919.99 1283.00L943.01 1283.00M931.50 1271.49L931.50 1294.51" stroke="#0000FF" stroke-linecap="round"/><path d="M907.46 1278.86L923.74 1295.14M907.46 1295.14L923.74 1278.86M904.09 1287.00L927.11 1287.00M915.60 1275.49L915.60 1298.51" stroke="#0000FF" stroke-linecap="round"/><path d="M945.36 1280.56L961.64 1296.84M945.36 1296.84L961.64 1280.56M941.99 1288.70L965.01 1288.70M953.50 1277.19L953.50 1300.21" stroke="#0000FF" stroke-linecap="round"/><path d="M995.46 1275.66L1011.74 1291.94M995.46 1291.94L1011.74 1275.66M992.09 1283.80L1015.11 1283.80M1003.60 1272.29L1003.60 1295.31" stroke="#0000FF" stroke-linecap="round"/><path d="M1015.86 1294.36L1032.14 1310.64M1015.86 1310.64L1032.14 1294.36M1012.49 1302.50L1035.51 1302.50M1024.00 1290.99L1024.00 1314.01" stroke="#0000FF" stroke-linecap="round"/><path d="M843.46 1287.06L859.74 1303.34M843.46 1303.34L859.74 1287.06M840.09 1295.20L863.11 1295.20M851.60 1283.69L851.60 1306.71" stroke="#0000FF" stroke-linecap="round"/><path d="M824.26 1295.16L840.54 1311.44M824.26 1311.44L840.54 1295.16M820.89 1303.30L843.91 1303.30M832.40 1291.79L832.40 1314.81" stroke="#0000FF" stroke-linecap="round"/><path d="M908.26 1293.56L924.54 1309.84M908.26 1309.84L924.54 1293.56M904.89 1301.70L927.91 1301.70M916.40 1290.19L916.40 1313.21" stroke="#0000FF" stroke-linecap="round"/><path d="M952.26 1290.36L968.54 1306.64M952.26 1306.64L968.54 1290.36M948.89 1298.50L971.91 1298.50M960.40 1286.99L960.40 1310.01" stroke="#0000FF" stroke-linecap="round"/><path d="M972.66 1294.36L988.94 1310.64M972.66 1310.64L988.94 1294.36M969.29 1302.50L992.31 1302.50M980.80 1290.99L980.80 1314.01" stroke="#0000FF" stroke-linecap="round"/><path d="M884.66 1294.36L900.94 1310.64M884.66 1310.64L900.94 1294.36M881.29 1302.50L904.31 1302.50M892.80 1290.99L892.80 1314.01" stroke="#22FF10" stroke-linecap="round"/><path d="M922.06 1294.36L938.34 1310.64M922.06 1310.64L938.34 1294.36M918.69 1302.50L941.71 1302.50M930.20 1290.99L930.20 1314.01" stroke="#22FF10" stroke-linecap="round"/><path d="M1107.26 1194.56L1123.54 1210.84M1107.26 1210.84L1123.54 1194.56M1103.89 1202.70L1126.91 1202.70M1115.40 1191.19L1115.40 1214.21" stroke="#0000FF" stroke-linecap="round"/><path d="M1180.66 1260.26L1196.94 1276.54M1180.66 1276.54L1196.94 1260.26M1177.29 1268.40L1200.31 1268.40M1188.80 1256.89L1188.80 1279.91" stroke="#0000FF" stroke-linecap="round"/><path d="M1122.26 1294.86L1138.54 1311.14M1122.26 1311.14L1138.54 1294.86M1118.89 1303.00L1141.91 1303.00M1130.40 1291.49L1130.40 1314.51" stroke="#22FF10" stroke-linecap="round"/><path d="M1148.36 1294.06L1164.64 1310.34M1148.36 1310.34L1164.64 1294.06M1144.99 1302.20L1168.01 1302.20M1156.50 1290.69L1156.50 1313.71" stroke="#0000FF" stroke-linecap="round"/><path d="M1154.96 1294.06L1171.24 1310.34M1154.96 1310.34L1171.24 1294.06M1151.59 1302.20L1174.61 1302.20M1163.10 1290.69L1163.10 1313.71" stroke="#0000FF" stroke-linecap="round"/><path d="M1167.96 1294.06L1184.24 1310.34M1167.96 1310.34L1184.24 1294.06M1164.59 1302.20L1187.61 1302.20M1176.10 1290.69L1176.10 1313.71" stroke="#22FF10" stroke-linecap="round"/><path d="M1200.26 1287.56L1216.54 1303.84M1200.26 1303.84L1216.54 1287.56M1196.89 1295.70L1219.91 1295.70M1208.40 1284.19L1208.40 1307.21" stroke="#0000FF" stroke-linecap="round"/><path d="M1222.56 1292.46L1238.84 1308.74M1222.56 1308.74L1238.84 1292.46M1219.19 1300.60L1242.21 1300.60M1230.70 1289.09L1230.70 1312.11" stroke="#0000FF" stroke-linecap="round"/><path d="M1247.56 1294.86L1263.84 1311.14M1247.56 1311.14L1263.84 1294.86M1244.19 1303.00L1267.21 1303.00M1255.70 1291.49L1255.70 1314.51" stroke="#0000FF" stroke-linecap="round"/><path d="M1273.56 1289.16L1289.84 1305.44M1273.56 1305.44L1289.84 1289.16M1270.19 1297.30L1293.21 1297.30M1281.70 1285.79L1281.70 1308.81" stroke="#0000FF" stroke-linecap="round"/><path d="M1191.86 1293.86L1208.14 1310.14M1191.86 1310.14L1208.14 1293.86M1188.49 1302.00L1211.51 1302.00M1200.00 1290.49L1200.00 1313.51" stroke="#22FF10" stroke-linecap="round"/><path d="M1263.86 1293.86L1280.14 1310.14M1263.86 1310.14L1280.14 1293.86M1260.49 1302.00L1283.51 1302.00M1272.00 1290.49L1272.00 1313.51" stroke="#22FF10" stroke-linecap="round"/><path d="M1405.96 1294.86L1422.24 1311.14M1405.96 1311.14L1422.24 1294.86M1402.59 1303.00L1425.61 1303.00M1414.10 1291.49L1414.10 1314.51" stroke="#22FF10" stroke-linecap="round"/><path d="M1489.36 1291.56L1505.64 1307.84M1489.36 1307.84L1505.64 1291.56M1485.99 1299.70L1509.01 1299.70M1497.50 1288.19L1497.50 1311.21" stroke="#0000FF" stroke-linecap="round"/><path d="M1495.06 1264.66L1511.34 1280.94M1495.06 1280.94L1511.34 1264.66M1491.69 1272.80L1514.71 1272.80M1503.20 1261.29L1503.20 1284.31" stroke="#0000FF" stroke-linecap="round"/><path d="M1531.26 1293.26L1547.54 1309.54M1531.26 1309.54L1547.54 1293.26M1527.89 1301.40L1550.91 1301.40M1539.40 1289.89L1539.40 1312.91" stroke="#0000FF" stroke-linecap="round"/><path d="M1527.86 1293.86L1544.14 1310.14M1527.86 1310.14L1544.14 1293.86M1524.49 1302.00L1547.51 1302.00M1536.00 1290.49L1536.00 1313.51" stroke="#0000FF" stroke-linecap="round"/><path d="M1561.46 1289.16L1577.74 1305.44M1561.46 1305.44L1577.74 1289.16M1558.09 1297.30L1581.11 1297.30M1569.60 1285.79L1569.60 1308.81" stroke="#0000FF" stroke-linecap="round"/><path d="M1575.76 1288.86L1592.04 1305.14M1575.76 1305.14L1592.04 1288.86M1572.39 1297.00L1595.41 1297.00M1583.90 1285.49L1583.90 1308.51" stroke="#0000FF" stroke-linecap="round"/><path d="M1611.16 1294.06L1627.44 1310.34M1611.16 1310.34L1627.44 1294.06M1607.79 1302.20L1630.81 1302.20M1619.30 1290.69L1619.30 1313.71" stroke="#22FF10" stroke-linecap="round"/><path d="M1639.36 1206.86L1655.64 1223.14M1639.36 1223.14L1655.64 1206.86M1635.99 1215.00L1659.01 1215.00M1647.50 1203.49L1647.50 1226.51" stroke="#0000FF" stroke-linecap="round"/><path d="M1647.56 1224.76L1663.84 1241.04M1647.56 1241.04L1663.84 1224.76M1644.19 1232.90L1667.21 1232.90M1655.70 1221.39L1655.70 1244.41" stroke="#22FF10" stroke-linecap="round"/><path d="M1643.76 1250.86L1660.04 1267.14M1643.76 1267.14L1660.04 1250.86M1640.39 1259.00L1663.41 1259.00M1651.90 1247.49L1651.90 1270.51" stroke="#22FF10" stroke-linecap="round"/><path d="M1656.86 1248.36L1673.14 1264.64M1656.86 1264.64L1673.14 1248.36M1653.49 1256.50L1676.51 1256.50M1665.00 1244.99L1665.00 1268.01" stroke="#0000FF" stroke-linecap="round"/><path d="M1678.06 1294.86L1694.34 1311.14M1678.06 1311.14L1694.34 1294.86M1674.69 1303.00L1697.71 1303.00M1686.20 1291.49L1686.20 1314.51" stroke="#22FF10" stroke-linecap="round"/><path d="M1715.86 1258.96L1732.14 1275.24M1715.86 1275.24L1732.14 1258.96M1712.49 1267.10L1735.51 1267.10M1724.00 1255.59L1724.00 1278.61" stroke="#0000FF" stroke-linecap="round"/><path d="M1741.26 1232.86L1757.54 1249.14M1741.26 1249.14L1757.54 1232.86M1737.89 1241.00L1760.91 1241.00M1749.40 1229.49L1749.40 1252.51" stroke="#0000FF" stroke-linecap="round"/><path d="M1718.76 1294.86L1735.04 1311.14M1718.76 1311.14L1735.04 1294.86M1715.39 1303.00L1738.41 1303.00M1726.90 1291.49L1726.90 1314.51" stroke="#22FF10" stroke-linecap="round"/><path d="M1766.86 1288.36L1783.14 1304.64M1766.86 1304.64L1783.14 1288.36M1763.49 1296.50L1786.51 1296.50M1775.00 1284.99L1775.00 1308.01" stroke="#22FF10" stroke-linecap="round"/><path d="M1792.96 1286.66L1809.24 1302.94M1792.96 1302.94L1809.24 1286.66M1789.59 1294.80L1812.61 1294.80M1801.10 1283.29L1801.10 1306.31" stroke="#0000FF" stroke-linecap="round"/><path d="M1797.06 1289.96L1813.34 1306.24M1797.06 1306.24L1813.34 1289.96M1793.69 1298.10L1816.71 1298.10M1805.20 1286.59L1805.20 1309.61" stroke="#0000FF" stroke-linecap="round"/><path d="M1639.26 1206.96L1655.54 1223.24M1639.26 1223.24L1655.54 1206.96M1635.89 1215.10L1658.91 1215.10M1647.40 1203.59L1647.40 1226.61" stroke="#0000FF" stroke-linecap="round"/><path d="M1831.36 1219.86L1847.64 1236.14M1831.36 1236.14L1847.64 1219.86M1827.99 1228.00L1851.01 1228.00M1839.50 1216.49L1839.50 1239.51" stroke="#FC0008" stroke-linecap="round"/><path d="M1797.56 1290.46L1813.84 1306.74M1797.56 1306.74L1813.84 1290.46M1794.19 1298.60L1817.21 1298.60M1805.70 1287.09L1805.70 1310.11" stroke="#0000FF" stroke-linecap="round"/><path d="M1850.86 1294.06L1867.14 1310.34M1850.86 1310.34L1867.14 1294.06M1847.49 1302.20L1870.51 1302.20M1859.00 1290.69L1859.00 1313.71" stroke="#0000FF" stroke-linecap="round"/><path d="M1855.76 1294.86L1872.04 1311.14M1855.76 1311.14L1872.04 1294.86M1852.39 1303.00L1875.41 1303.00M1863.90 1291.49L1863.90 1314.51" stroke="#0000FF" stroke-linecap="round"/><path d="M1878.76 1294.86L1895.04 1311.14M1878.76 1311.14L1895.04 1294.86M1875.39 1303.00L1898.41 1303.00M1886.90 1291.49L1886.90 1314.51" stroke="#0000FF" stroke-linecap="round"/><path d="M1821.86 1294.86L1838.14 1311.14M1821.86 1311.14L1838.14 1294.86M1818.49 1303.00L1841.51 1303.00M1830.00 1291.49L1830.00 1314.51" stroke="#22FF10" stroke-linecap="round"/><path d="M1930.76 1268.76L1947.04 1285.04M1930.76 1285.04L1947.04 1268.76M1927.39 1276.90L1950.41 1276.90M1938.90 1265.39L1938.90 1288.41" stroke="#0000FF" stroke-linecap="round"/><path d="M1901.06 1294.86L1917.34 1311.14M1901.06 1311.14L1917.34 1294.86M1897.69 1303.00L1920.71 1303.00M1909.20 1291.49L1909.20 1314.51" stroke="#22FF10" stroke-linecap="round"/><path d="M1929.86 1294.86L1946.14 1311.14M1929.86 1311.14L1946.14 1294.86M1926.49 1303.00L1949.51 1303.00M1938.00 1291.49L1938.00 1314.51" stroke="#22FF10" stroke-linecap="round"/><path d="M1936.86 1294.86L1953.14 1311.14M1936.86 1311.14L1953.14 1294.86M1933.49 1303.00L1956.51 1303.00M1945.00 1291.49L1945.00 1314.51" stroke="#22FF10" stroke-linecap="round"/><path d="M1987.56 1294.86L2003.84 1311.14M1987.56 1311.14L2003.84 1294.86M1984.19 1303.00L2007.21 1303.00M1995.70 1291.49L1995.70 1314.51" stroke="#22FF10" stroke-linecap="round"/><path d="M2029.06 1294.86L2045.34 1311.14M2029.06 1311.14L2045.34 1294.86M2025.69 1303.00L2048.71 1303.00M2037.20 1291.49L2037.20 1314.51" stroke="#22FF10" stroke-linecap="round"/><path d="M2005.76 1294.86L2022.04 1311.14M2005.76 1311.14L2022.04 1294.86M2002.39 1303.00L2025.41 1303.00M2013.90 1291.49L2013.90 1314.51" stroke="#0000FF" stroke-linecap="round"/><path d="M2091.56 1270.36L2107.84 1286.64M2091.56 1286.64L2107.84 1270.36M2088.19 1278.50L2111.21 1278.50M2099.70 1266.99L2099.70 1290.01" stroke="#0000FF" stroke-linecap="round"/><path d="M2091.56 1294.86L2107.84 1311.14M2091.56 1311.14L2107.84 1294.86M2088.19 1303.00L2111.21 1303.00M2099.70 1291.49L2099.70 1314.51" stroke="#0000FF" stroke-linecap="round"/><path d="M857.76 1250.76L874.04 1267.04M857.76 1267.04L874.04 1250.76M854.39 1258.90L877.41 1258.90M865.90 1247.39L865.90 1270.41" stroke="#FC0008" stroke-linecap="round"/><path d="M1657.26 1257.36L1673.54 1273.64M1657.26 1273.64L1673.54 1257.36M1653.89 1265.50L1676.91 1265.50M1665.40 1253.99L1665.40 1277.01" stroke="#FC0008" stroke-linecap="round"/><path d="M1664.96 1293.76L1681.24 1310.04M1664.96 1310.04L1681.24 1293.76M1661.59 1301.90L1684.61 1301.90M1673.10 1290.39L1673.10 1313.41" stroke="#FC0008" stroke-linecap="round"/><path d="M1797.36 1256.26L1813.64 1272.54M1797.36 1272.54L1813.64 1256.26M1793.99 1264.40L1817.01 1264.40M1805.50 1252.89L1805.50 1275.91" stroke="#FC0008" stroke-linecap="round"/></g><rect x="182.00" y="24.00" width="2039.50" height="1338.80" fill="none" stroke="#141414" stroke-width="2.2"/><g stroke="#252525" stroke-width="4.4"><line x1="169.44" y1="1302.95" x2="180.90" y2="1302.95"/><line x1="169.44" y1="998.18" x2="180.90" y2="998.18"/><line x1="169.44" y1="693.40" x2="180.90" y2="693.40"/><line x1="169.44" y1="388.63" x2="180.90" y2="388.63"/><line x1="169.44" y1="83.85" x2="180.90" y2="83.85"/><line x1="415.50" y1="1363.90" x2="415.50" y2="1375.36"/><line x1="871.80" y1="1363.90" x2="871.80" y2="1375.36"/><line x1="1328.10" y1="1363.90" x2="1328.10" y2="1375.36"/><line x1="1784.40" y1="1363.90" x2="1784.40" y2="1375.36"/></g><g fill="#3A3A3A" font-size="36.67px"><text x="159.1" y="1316.05" text-anchor="end">0.00</text><text x="159.1" y="1011.28" text-anchor="end">0.25</text><text x="159.1" y="706.50" text-anchor="end">0.50</text><text x="159.1" y="401.73" text-anchor="end">0.75</text><text x="159.1" y="96.95" text-anchor="end">1.00</text><text x="415.50" y="1411.9" text-anchor="middle">133,000,000</text><text x="871.80" y="1411.9" text-anchor="middle">133,200,000</text><text x="1328.10" y="1411.9" text-anchor="middle">133,400,000</text><text x="1784.40" y="1411.9" text-anchor="middle">133,600,000</text></g><text x="1201.75" y="1466.9" text-anchor="middle" font-size="45.83px" fill="#000">Genomic location of EXOC4 (GRCh37 chr7:132937829-133751342, gray = exons)</text><text transform="translate(54.8 693.40) rotate(-90)" text-anchor="middle" font-size="45.83px" fill="#000">CAPICE score (pathogenicity estimate)</text><g fill="#000"><text x="2292.9" y="413.5" font-size="45.83px">Source</text><text x="2374.0" y="480.60" font-size="36.67px">CAPICE Testing</text><text x="2374.0" y="552.40" font-size="36.67px">CAPICE Training</text><text x="2374.0" y="624.20" font-size="36.67px">VKGL Oct. 2019</text><text x="2292.9" y="774.1" font-size="45.83px">Classification</text><text x="2374.0" y="841.20" font-size="36.67px">LB/B</text><text x="2374.0" y="913.00" font-size="36.67px">LP/P</text><text x="2374.0" y="984.80" font-size="36.67px">VUS</text></g><g fill="none" stroke-width="2.95" stroke-linejoin="round" stroke-linecap="round"><path d="M2329.3 454.78L2340.82 466.30L2329.3 477.82L2317.78 466.30Z" stroke="#000"/><rect x="2321.16" y="530.16" width="16.28" height="16.28" stroke="#000"/><path d="M2321.16 602.06L2337.44 618.34M2321.16 618.34L2337.44 602.06M2317.79 610.20L2340.81 610.20M2329.30 598.69L2329.30 621.71" stroke="#000" stroke-linecap="round"/></g><circle cx="2329.3" cy="827.40" r="9.62" fill="#22FF10"/><circle cx="2329.3" cy="899.50" r="9.62" fill="#FC0008"/><circle cx="2329.3" cy="971.60" r="9.62" fill="#0000FF"/></svg></body></html>
